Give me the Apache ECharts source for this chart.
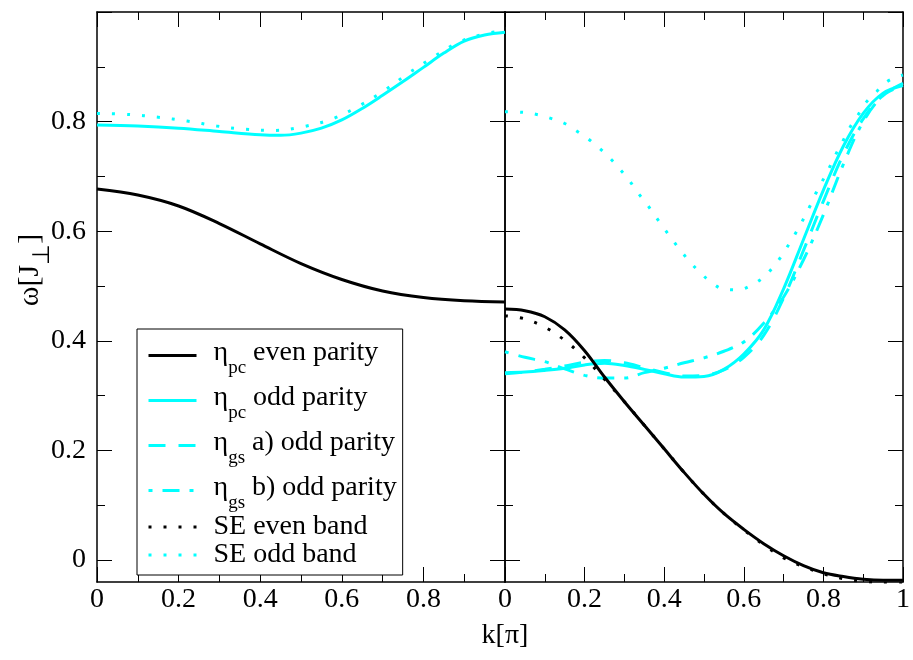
<!DOCTYPE html>
<html><head><meta charset="utf-8">
<script src="https://cdn.jsdelivr.net/npm/echarts@6/dist/echarts.min.js"></script>
<style>html,body{margin:0;padding:0;background:#fff}#c{width:913px;height:660px}</style>
</head><body><div id="c"></div>
<script>
// ---------- data ----------
const yMajorTicks = [0, 0.2, 0.4, 0.6, 0.8, 1.0];
const yLabelTicks = [0, 0.2, 0.4, 0.6, 0.8];
const yMinorTicks = [0.1, 0.3, 0.5, 0.7, 0.9];

// left panel
const L_pcEven_k = [0, 0.1, 0.2, 0.3, 0.4, 0.5, 0.6, 0.7, 0.8, 0.9, 1];
const L_pcEven_w = [0.677, 0.666, 0.646, 0.614, 0.577, 0.541, 0.512, 0.491, 0.479, 0.473, 0.471];
const L_pcOdd_k = [0, 0.1, 0.2, 0.3, 0.4, 0.45, 0.5, 0.55, 0.6, 0.65, 0.7, 0.75, 0.8, 0.85, 0.9, 0.95, 1];
const L_pcOdd_w = [0.794, 0.792, 0.788, 0.782, 0.776, 0.775, 0.779, 0.788, 0.803, 0.824, 0.848, 0.873, 0.899, 0.925, 0.947, 0.958, 0.963];
const L_seOdd_k = [0, 0.078, 0.15, 0.221, 0.293, 0.364, 0.436, 0.507, 0.577, 0.641, 0.703, 0.761, 0.823, 0.884, 0.95, 1];
const L_seOdd_w = [0.815, 0.813, 0.808, 0.801, 0.792, 0.786, 0.784, 0.791, 0.805, 0.828, 0.856, 0.887, 0.917, 0.944, 0.960, 0.966];

// right panel (sampled every 0.05 in k)
const R_k = [0, 0.05, 0.1, 0.15, 0.2, 0.25, 0.3, 0.35, 0.4, 0.45, 0.5, 0.55, 0.6, 0.65, 0.7, 0.75, 0.8, 0.85, 0.9, 0.95, 1];
const R_pcEven_w = [0.458, 0.455, 0.444, 0.420, 0.382, 0.334, 0.289, 0.246, 0.203, 0.160, 0.120, 0.085, 0.056, 0.030, 0.008, -0.010, -0.023, -0.030, -0.035, -0.037, -0.037];
const R_seEven_w = [0.446, 0.440, 0.425, 0.401, 0.369, 0.330, 0.289, 0.246, 0.203, 0.160, 0.120, 0.085, 0.055, 0.028, 0.004, -0.012, -0.025, -0.034, -0.039, -0.042, -0.043];
const R_pcOdd_w = [0.342, 0.343, 0.346, 0.350, 0.356, 0.359, 0.355, 0.348, 0.340, 0.334, 0.335, 0.348, 0.376, 0.420, 0.495, 0.585, 0.675, 0.755, 0.815, 0.852, 0.866];
const R_gsA_w = [0.340, 0.343, 0.348, 0.354, 0.361, 0.364, 0.360, 0.351, 0.342, 0.336, 0.337, 0.347, 0.370, 0.410, 0.478, 0.565, 0.655, 0.740, 0.805, 0.848, 0.866];
const R_gsB_w = [0.380, 0.370, 0.362, 0.349, 0.337, 0.332, 0.332, 0.342, 0.350, 0.360, 0.369, 0.381, 0.398, 0.432, 0.480, 0.548, 0.630, 0.722, 0.800, 0.848, 0.870];
const R_seOdd_k = [0, 0.044, 0.08, 0.115, 0.149, 0.18, 0.21, 0.238, 0.264, 0.289, 0.312, 0.333, 0.356, 0.377, 0.398, 0.42, 0.442, 0.466, 0.491, 0.518, 0.55, 0.585, 0.618, 0.648, 0.673, 0.695, 0.714, 0.733, 0.751, 0.767, 0.783, 0.8, 0.817, 0.833, 0.85, 0.868, 0.887, 0.907, 0.934, 0.96, 0.992, 1];
const R_seOdd_w = [0.818, 0.817, 0.813, 0.806, 0.797, 0.783, 0.768, 0.751, 0.733, 0.713, 0.693, 0.671, 0.650, 0.628, 0.607, 0.585, 0.564, 0.543, 0.524, 0.507, 0.494, 0.493, 0.501, 0.515, 0.534, 0.555, 0.577, 0.600, 0.624, 0.647, 0.672, 0.695, 0.719, 0.743, 0.766, 0.791, 0.812, 0.835, 0.855, 0.873, 0.883, 0.885];

const legendOrder = ['pcEven', 'pcOdd', 'gsA', 'gsB', 'seEven', 'seOdd'];
const legendText = {
  pcEven: '{a|η}{s|pc}{m| even parity}',
  pcOdd: '{a|η}{s|pc}{m| odd parity}',
  gsA: '{a|η}{s|gs}{m| a) odd parity}',
  gsB: '{a|η}{s|gs}{m| b) odd parity}',
  seEven: '{p|SE even band}',
  seOdd: '{p|SE odd band}'
};
const xTitle = 'k[π]';
const yTitle = '{m|ω[J}{s|⊥}{m|]}';

// ---------- chart ----------
const F = '"Liberation Serif", "Times New Roman", serif';
const CYAN = '#00ffff', BLACK = '#000000';
const zip = (k, w) => k.map((v, i) => [v, w[i]]);

const STYLE = {
  pcEven: { color: BLACK, type: 'solid' },
  pcOdd: { color: CYAN, type: 'solid' },
  gsA: { color: CYAN, type: [17, 13] },
  gsB: { color: CYAN, type: [4, 10, 17, 10] },
  seEven: { color: BLACK, type: [3, 12] },
  seOdd: { color: CYAN, type: [3, 12] }
};

function mkSeries(name, k, w, right) {
  const st = STYLE[name];
  return {
    type: 'line', name: name, data: zip(k, w),
    xAxisIndex: right ? 2 : 0, yAxisIndex: right ? 4 : 0,
    symbol: 'none', smooth: 0.35, clip: true,
    color: st.color,
    lineStyle: { color: st.color, width: 3, type: st.type, cap: 'butt' },
    emphasis: { disabled: true }, z: st.color === BLACK ? 3 : 2
  };
}

const grids = [
  { left: 97, top: 12, width: 408, height: 570 },
  { left: 505, top: 12, width: 407, height: 570 }
];

const tickStyle = { color: '#000', width: 1 };
function xAx(grid, pos, labels, showLast) {
  return {
    type: 'value', gridIndex: grid, position: pos, min: 0, max: 1, interval: 0.2,
    axisLine: { show: true, onZero: false, lineStyle: { color: '#000', width: 1.5 } },
    axisTick: { show: true, inside: true, length: 15, lineStyle: tickStyle },
    minorTick: { show: true, splitNumber: 2, length: 8, lineStyle: tickStyle },
    splitLine: { show: false }, minorSplitLine: { show: false },
    axisLabel: {
      show: labels, margin: 4, color: '#000', fontFamily: F, fontSize: 28,
      formatter: v => (v === 1 && !showLast) ? '' : (v === 0 ? '0' : (v === 1 ? '1' : v.toFixed(1)))
    }
  };
}
function yAx(grid, pos, minor, labels) {
  return {
    type: 'value', gridIndex: grid, position: pos, min: -0.04, max: 1.0,
    axisLine: { show: !minor, onZero: false, lineStyle: { color: '#000', width: 1.5 } },
    axisTick: { show: true, inside: true, length: minor ? 8 : 15, lineStyle: tickStyle,
      customValues: minor ? yMinorTicks : yMajorTicks },
    splitLine: { show: false },
    axisLabel: {
      show: labels, margin: 11, color: '#000', fontFamily: F, fontSize: 28,
      customValues: yLabelTicks,
      formatter: v => (Math.abs(v) < 1e-9 ? '0' : v.toFixed(1))
    }
  };
}

const option = {
  animation: false,
  backgroundColor: '#fff',
  grid: grids,
  xAxis: [xAx(0, 'bottom', true, false), xAx(0, 'top', false, false), xAx(1, 'bottom', true, true), xAx(1, 'top', false, false)],
  yAxis: [
    yAx(0, 'left', false, true), yAx(0, 'left', true, false), yAx(0, 'right', false, false), yAx(0, 'right', true, false),
    yAx(1, 'left', false, false), yAx(1, 'left', true, false), yAx(1, 'right', false, false), yAx(1, 'right', true, false)
  ],
  legend: {
    orient: 'vertical', left: 137, top: 329, itemGap: 0, itemWidth: 48, itemHeight: 14,
    padding: [4, 6, 6, 10], borderColor: '#000', borderWidth: 1, borderRadius: 0,
    backgroundColor: '#fff', selectedMode: false, data: legendOrder,
    itemStyle: { opacity: 0 }, lineStyle: { width: 3 },
    formatter: n => legendText[n],
    textStyle: {
      color: '#000', fontFamily: F, fontSize: 28,
      rich: {
        a: { fontFamily: F, fontSize: 28, lineHeight: 45, padding: [6, 0, 0, 12], verticalAlign: 'top', color: '#000' },
        m: { fontFamily: F, fontSize: 28, lineHeight: 45, padding: [6, 0, 0, 0], verticalAlign: 'top', color: '#000' },
        s: { fontFamily: F, fontSize: 19, lineHeight: 20, padding: [25, 0, 0, 0], verticalAlign: 'bottom', color: '#000' },
        p: { fontFamily: F, fontSize: 28, lineHeight: 29, padding: [0, 0, 0, 12], verticalAlign: 'middle', color: '#000' }
      }
    }
  },
  graphic: [
    { type: 'text', x: 505, y: 636, silent: true,
      style: { text: xTitle, fontFamily: F, fontSize: 28, fill: '#000', align: 'center', verticalAlign: 'middle' } },
    { type: 'text', x: 30, y: 270, rotation: Math.PI / 2, silent: true,
      style: { text: yTitle, fill: '#000', align: 'center', verticalAlign: 'middle',
        rich: {
          m: { fontFamily: F, fontSize: 30, lineHeight: 30, verticalAlign: 'middle', fill: '#000' },
          s: { fontFamily: F, fontSize: 24, lineHeight: 20, padding: [16, 0, 0, 0], verticalAlign: 'top', fill: '#000' }
        } } }
  ],
  series: [
    mkSeries('pcOdd', L_pcOdd_k, L_pcOdd_w, false),
    mkSeries('seOdd', L_seOdd_k, L_seOdd_w, false),
    mkSeries('pcEven', L_pcEven_k, L_pcEven_w, false),
    mkSeries('seOdd', R_seOdd_k, R_seOdd_w, true),
    mkSeries('gsB', R_k, R_gsB_w, true),
    mkSeries('gsA', R_k, R_gsA_w, true),
    mkSeries('pcOdd', R_k, R_pcOdd_w, true),
    mkSeries('seEven', R_k, R_seEven_w, true),
    mkSeries('pcEven', R_k, R_pcEven_w, true)
  ]
};

const chart = echarts.init(document.getElementById('c'), null, { renderer: 'canvas' });
chart.setOption(option);
</script></body></html>
